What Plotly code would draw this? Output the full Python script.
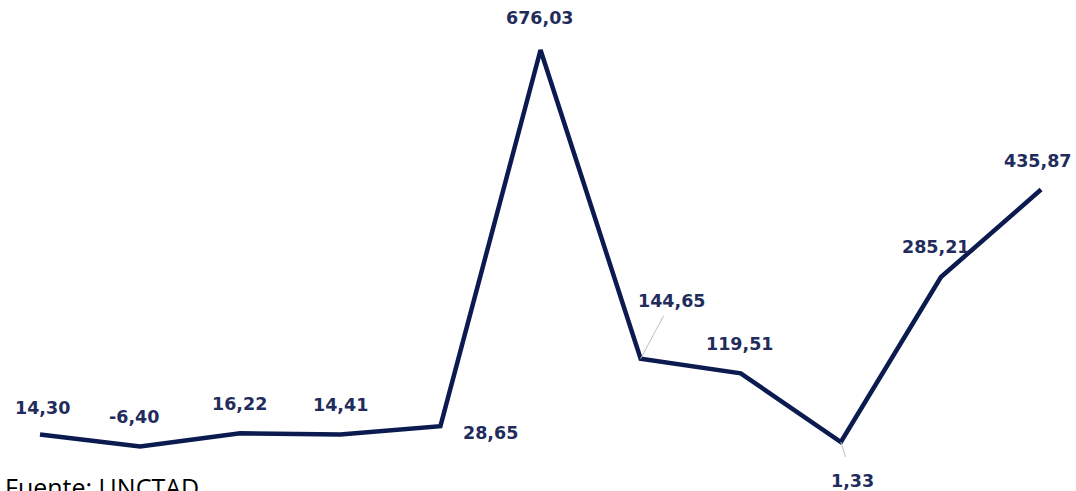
import plotly.graph_objects as go

categories = list(range(11))
values = [14.30, -6.40, 16.22, 14.41, 28.65, 676.03, 144.65, 119.51, 1.33, 285.21, 435.87]
labels = ["14,30", "-6,40", "16,22", "14,41", "28,65", "676,03", "144,65", "119,51", "1,33", "285,21", "435,87"]
# label offsets in pixels (dx, dy), dy positive = down
offsets = [(2, -26), (-6, -30), (-1, -29), (0, -29), (50, 7), (-1, -32), (31, -58), (-1, -29), (12, 39), (-5, -30), (-3, -29)]
leaders = [False, False, False, False, False, False, True, False, True, False, False]
lead_cut = [0, 0, 0, 0, 0, 0, 4, 0, 13, 0, 0]

LINE = "#0B1B4F"
TEXT = "#1F2C5C"
LABEL_FONT = dict(family="DejaVu Sans", size=17.5, color=TEXT, weight="bold")

fig = go.Figure()
fig.add_trace(go.Scatter(
    x=categories, y=values, mode="lines",
    line=dict(color=LINE, width=4.5),
    hoverinfo="skip", showlegend=False,
))

for xi, v, lab, (dx, dy), lead, cut in zip(categories, values, labels, offsets, leaders, lead_cut):
    if lead:
        fig.add_annotation(
            x=xi, y=v, xref="x", yref="y", text=lab,
            showarrow=True, arrowhead=0, arrowwidth=1, arrowcolor="#BFBFBF",
            ax=dx, ay=dy, standoff=0, startstandoff=cut,
            font=LABEL_FONT,
        )
    else:
        fig.add_annotation(
            x=xi, y=v, xref="x", yref="y", text=lab, showarrow=False,
            xshift=dx, yshift=-dy,
            font=LABEL_FONT,
        )

W, H = 1076, 491
fig.add_annotation(
    x=0.0, y=(H - 468) / H, xref="paper", yref="paper",
    xanchor="left", yanchor="top", showarrow=False, xshift=3,
    text="Fuente: UNCTAD",
    font=dict(family="Open Sans", size=25, color="#000000"),
)

fig.update_layout(
    width=W, height=H,
    margin=dict(l=0, r=0, t=0, b=0),
    paper_bgcolor="white", plot_bgcolor="white",
    xaxis=dict(range=[-0.3996, 10.349], visible=False, fixedrange=True),
    yaxis=dict(range=[-83.0, 762.1], visible=False, fixedrange=True),
)

fig.write_html(
    "out.html",
    config={"displayModeBar": False},
    post_script="document.body.style.margin='0';document.body.style.overflow='hidden';",
)
